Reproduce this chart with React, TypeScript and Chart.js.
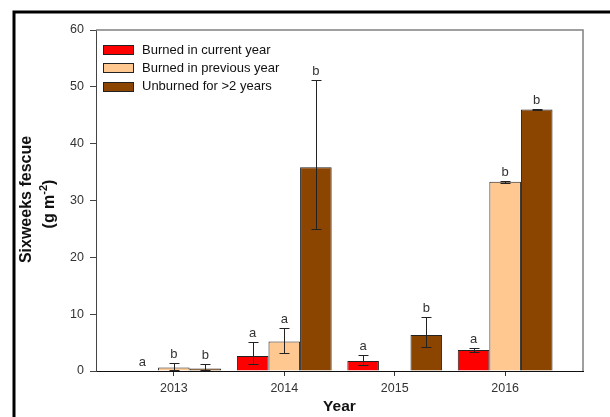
import { useEffect, useRef } from "react";
import { Chart, registerables } from "chart.js";

Chart.register(...registerables);

// Survey years and the three burn-history groups
const years = [2013, 2014, 2015, 2016];
const seriesNames = ["Burned in current year", "Burned in previous year", "Unburned for >2 years"];
const seriesColors = ["#ff0000", "#ffc891", "#8b4500"];

// Mean biomass (g m-2)
const burnedCurrent: (number | null)[] = [0, 2.65, 1.76, 3.7];
const burnedPrevious: (number | null)[] = [0.6, 5.17, null, 33.3];
const unburned: (number | null)[] = [0.45, 35.85, 6.34, 46.0];

// Error bar ends (upper / lower)
const burnedCurrentHigh: (number | null)[] = [null, 5.1, 2.77, 4.1];
const burnedCurrentLow: (number | null)[] = [null, 1.3, 1.0, 3.35];
const burnedPreviousHigh: (number | null)[] = [1.35, 7.64, null, 33.45];
const burnedPreviousLow: (number | null)[] = [0.1, 3.12, null, 33.15];
const unburnedHigh: (number | null)[] = [1.18, 51.2, 9.45, 46.15];
const unburnedLow: (number | null)[] = [0.15, 25.0, 4.17, 45.85];

// Significance letters
const burnedCurrentLetters = ["a", "a", "a", "a"];
const burnedPreviousLetters = ["b", "a", "", "b"];
const unburnedLetters = ["b", "b", "b", "b"];

const yTicks = [0, 10, 20, 30, 40, 50, 60];

const values = [burnedCurrent, burnedPrevious, unburned];
const highs = [burnedCurrentHigh, burnedPreviousHigh, unburnedHigh];
const lows = [burnedCurrentLow, burnedPreviousLow, unburnedLow];
const letters = [burnedCurrentLetters, burnedPreviousLetters, unburnedLetters];

const FONT = "Arial, 'Liberation Sans', sans-serif";

const decorations = {
  id: "decorations",
  afterDatasetsDraw(chart: any) {
    const ctx: CanvasRenderingContext2D = chart.ctx;
    const y = chart.scales.y;
    ctx.save();
    values.forEach((series, di) => {
      const meta = chart.getDatasetMeta(di);
      meta.data.forEach((bar: any, i: number) => {
        const v = series[i];
        if (v == null) return;
        let top = y.getPixelForValue(v);
        const hi = highs[di][i];
        const lo = lows[di][i];
        const x = Math.round(bar.x) + 0.5;
        if (hi != null && lo != null) {
          const pHi = Math.round(y.getPixelForValue(hi)) + 0.5;
          const pLo = Math.round(y.getPixelForValue(lo)) + 0.5;
          ctx.strokeStyle = "#222";
          ctx.lineWidth = 1;
          ctx.beginPath();
          ctx.moveTo(x, pHi);
          ctx.lineTo(x, pLo);
          ctx.moveTo(x - 5, pHi);
          ctx.lineTo(x + 5, pHi);
          ctx.moveTo(x - 5, pLo);
          ctx.lineTo(x + 5, pLo);
          ctx.stroke();
          top = Math.min(top, pHi);
        }
        const letter = letters[di][i];
        if (letter) {
          ctx.fillStyle = "#333";
          ctx.font = `13px ${FONT}`;
          ctx.textAlign = "center";
          ctx.textBaseline = "middle";
          ctx.fillText(letter, bar.x, top - 9);
        }
      });
    });
    ctx.restore();
  },
  afterDraw(chart: any) {
    const ctx: CanvasRenderingContext2D = chart.ctx;
    const area = chart.chartArea;
    ctx.save();

    // top and right edges of the plot box
    ctx.strokeStyle = "#808080";
    ctx.lineWidth = 1.5;
    ctx.beginPath();
    ctx.moveTo(area.left, area.top);
    ctx.lineTo(area.right, area.top);
    ctx.lineTo(area.right, area.bottom);
    ctx.stroke();

    // outer frame
    ctx.strokeStyle = "#000";
    ctx.lineWidth = 3;
    ctx.strokeRect(14, 12, 700, 500);

    // legend
    ctx.font = `13px ${FONT}`;
    ctx.textAlign = "left";
    ctx.textBaseline = "middle";
    seriesNames.forEach((name, i) => {
      const cy = 50 + i * 18.3;
      ctx.fillStyle = seriesColors[i];
      ctx.fillRect(103, Math.round(cy - 5), 31, 10);
      ctx.strokeStyle = "#222";
      ctx.lineWidth = 1;
      ctx.strokeRect(103.5, Math.round(cy - 5) + 0.5, 30, 9);
      ctx.fillStyle = "#111";
      ctx.fillText(name, 142, cy);
    });

    // x axis title
    ctx.fillStyle = "#111";
    ctx.font = `bold 15.5px ${FONT}`;
    ctx.textAlign = "center";
    ctx.fillText("Year", (area.left + area.right) / 2, 407);

    // y axis title, two lines with a superscript
    ctx.save();
    ctx.translate(27, 199.5);
    ctx.rotate(-Math.PI / 2);
    ctx.font = `bold 16px ${FONT}`;
    ctx.textAlign = "center";
    ctx.fillText("Sixweeks fescue", 0, 0);
    ctx.restore();

    ctx.save();
    ctx.translate(50, 204);
    ctx.rotate(-Math.PI / 2);
    ctx.textAlign = "left";
    const big = `bold 16px ${FONT}`;
    const small = `bold 11px ${FONT}`;
    ctx.font = big;
    const w1 = ctx.measureText("(g m").width;
    const w3 = ctx.measureText(")").width;
    ctx.font = small;
    const w2 = ctx.measureText("-2").width;
    let x0 = -(w1 + w2 + w3) / 2;
    ctx.font = big;
    ctx.fillText("(g m", x0, 0);
    x0 += w1;
    ctx.font = small;
    ctx.fillText("-2", x0, -6);
    x0 += w2;
    ctx.font = big;
    ctx.fillText(")", x0, 0);
    ctx.restore();

    ctx.restore();
  },
};

export default function App() {
  const canvasRef = useRef<HTMLCanvasElement | null>(null);

  useEffect(() => {
    if (!canvasRef.current) return;
    Chart.defaults.font.family = FONT;
    const chart = new Chart(canvasRef.current, {
      type: "bar",
      data: {
        datasets: values.map((series, di) => ({
          label: seriesNames[di],
          data: years.map((yr, i) => ({ x: yr, y: series[i] })),
          backgroundColor: seriesColors[di],
          borderColor: "#222",
          borderWidth: 1,
          borderSkipped: "bottom",
          categoryPercentage: 0.858,
          barPercentage: 1,
        })) as any,
      },
      options: {
        responsive: false,
        devicePixelRatio: 1,
        animation: false,
        layout: { padding: { left: 0, top: 30, right: 27, bottom: 0 } },
        plugins: {
          legend: { display: false },
          title: { display: false },
          tooltip: { enabled: false },
        },
        scales: {
          x: {
            type: "linear",
            min: 2012.295,
            max: 2016.705,
            offset: false,
            afterBuildTicks: (scale: any) => {
              scale.ticks = years.map((v) => ({ value: v }));
            },
            afterFit: (scale: any) => {
              scale.height = 46;
            },
            ticks: {
              callback: (v: any) => String(v),
              font: { size: 12.5, family: FONT },
              color: "#333",
              padding: 5,
              maxRotation: 0,
            },
            grid: {
              offset: false,
              drawOnChartArea: false,
              drawTicks: true,
              tickLength: 5,
              color: "#333",
            },
            border: { display: true, color: "#111", width: 1 },
          },
          y: {
            min: 0,
            max: 60,
            afterBuildTicks: (scale: any) => {
              scale.ticks = yTicks.map((v) => ({ value: v }));
            },
            afterFit: (scale: any) => {
              scale.width = 96;
            },
            ticks: {
              font: { size: 12.5, family: FONT },
              color: "#333",
              padding: 6,
            },
            grid: {
              drawOnChartArea: false,
              drawTicks: true,
              tickLength: 6,
              color: "#444",
            },
            border: { display: true, color: "#444", width: 1 },
          },
        },
      } as any,
      plugins: [decorations],
    });
    return () => chart.destroy();
  }, []);

  return (
    <div style={{ position: "fixed", left: 0, top: 0, width: 610, height: 417, background: "#fff" }}>
      <canvas ref={canvasRef} width={610} height={417} style={{ display: "block" }} />
    </div>
  );
}
